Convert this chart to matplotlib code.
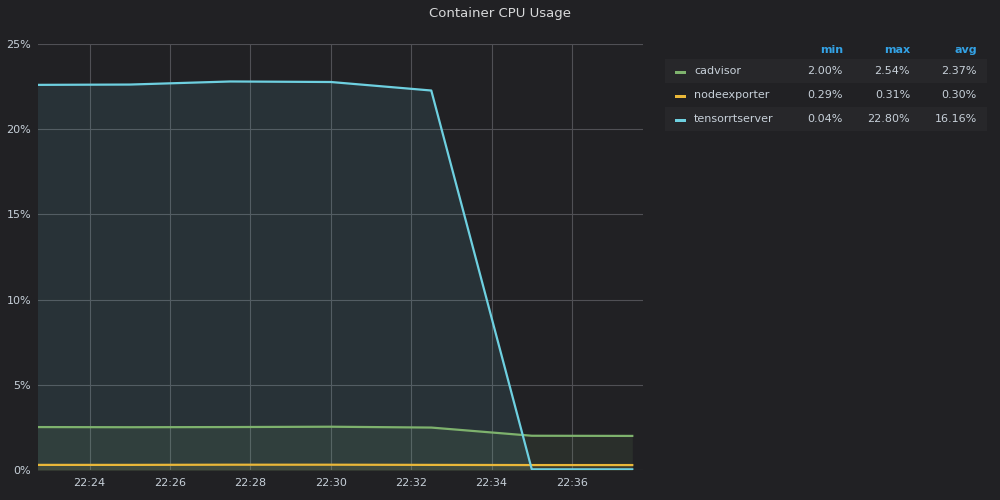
import matplotlib
matplotlib.use("Agg")
import matplotlib.pyplot as plt
import matplotlib.dates as mdates
from matplotlib.patches import Rectangle
from datetime import datetime

times = ["22:22:30", "22:25:00", "22:27:30", "22:30:00", "22:32:30", "22:35:00", "22:37:30"]
series_names = ["cadvisor", "nodeexporter", "tensorrtserver"]
cadvisor = [2.52, 2.51, 2.52, 2.54, 2.49, 2.01, 2.00]
nodeexporter = [0.30, 0.30, 0.31, 0.31, 0.30, 0.29, 0.29]
tensorrtserver = [22.60, 22.62, 22.80, 22.77, 22.27, 0.04, 0.04]
colors = ["#7eb26d", "#eab839", "#6ed0e0"]
legend_cols = ["min", "max", "avg"]
yticks = [0, 5, 10, 15, 20, 25]

BG = "#212124"
TXT = "#c7d0d9"

def t(s):
    return datetime.strptime("2020-01-01 " + s, "%Y-%m-%d %H:%M:%S")

x = [t(s) for s in times]
values = [cadvisor, nodeexporter, tensorrtserver]

fig = plt.figure(figsize=(10, 5), dpi=100, facecolor=BG)
ax = fig.add_axes([0.038, 0.06, 0.605, 0.852], facecolor=BG)

for vals, c in zip(values, colors):
    ax.fill_between(x, vals, 0, color=c, alpha=0.1, linewidth=0)
for vals, c in zip(values, colors):
    ax.plot(x, vals, color=c, linewidth=1.6, solid_joinstyle="round")

ax.set_xlim(t("22:22:43"), t("22:37:46"))
ax.set_ylim(0, 25)
ax.set_yticks(yticks)
ax.set_yticklabels([f"{v}%" for v in yticks])
ax.xaxis.set_major_locator(mdates.MinuteLocator(byminute=range(0, 60, 2)))
ax.xaxis.set_major_formatter(mdates.DateFormatter("%H:%M"))
ax.grid(True, color="#505055", linewidth=0.8)
ax.set_axisbelow(True)
for sp in ax.spines.values():
    sp.set_visible(False)
ax.tick_params(axis="both", length=0, colors=TXT, labelsize=8)
ax.tick_params(axis="y", pad=5)
ax.tick_params(axis="x", pad=6)

fig.text(0.5, 0.972, "Container CPU Usage", ha="center", va="center",
         color="#d8d9da", fontsize=9.5)

# legend table
W, H = 1000, 500
def fx(px): return px / W
def fy(py): return 1 - py / H

col_x = [843, 910, 977]
for name, xx in zip(legend_cols, col_x):
    fig.text(fx(xx), fy(50), name, ha="right", va="center", color="#33a2e5",
             fontsize=8, fontweight="bold")

row_y = [71, 95, 119]
for i, (name, vals, c) in enumerate(zip(series_names, values, colors)):
    cy = row_y[i]
    if i % 2 == 0:
        fig.patches.append(Rectangle((fx(665), fy(cy + 12)), fx(322), 24 / H,
                                     transform=fig.transFigure, facecolor="#27272a",
                                     edgecolor="none"))
    fig.patches.append(Rectangle((fx(675), fy(cy + 2.5)), fx(11), 3 / H,
                                 transform=fig.transFigure, facecolor=c, edgecolor="none"))
    fig.text(fx(694), fy(cy), name, ha="left", va="center", color=TXT, fontsize=8)
    stats = [min(vals), max(vals), sum(vals) / len(vals)]
    for s, xx in zip(stats, col_x):
        fig.text(fx(xx), fy(cy), f"{s:.2f}%", ha="right", va="center", color=TXT, fontsize=8)

fig.savefig("out.png", dpi=100, facecolor=BG)
